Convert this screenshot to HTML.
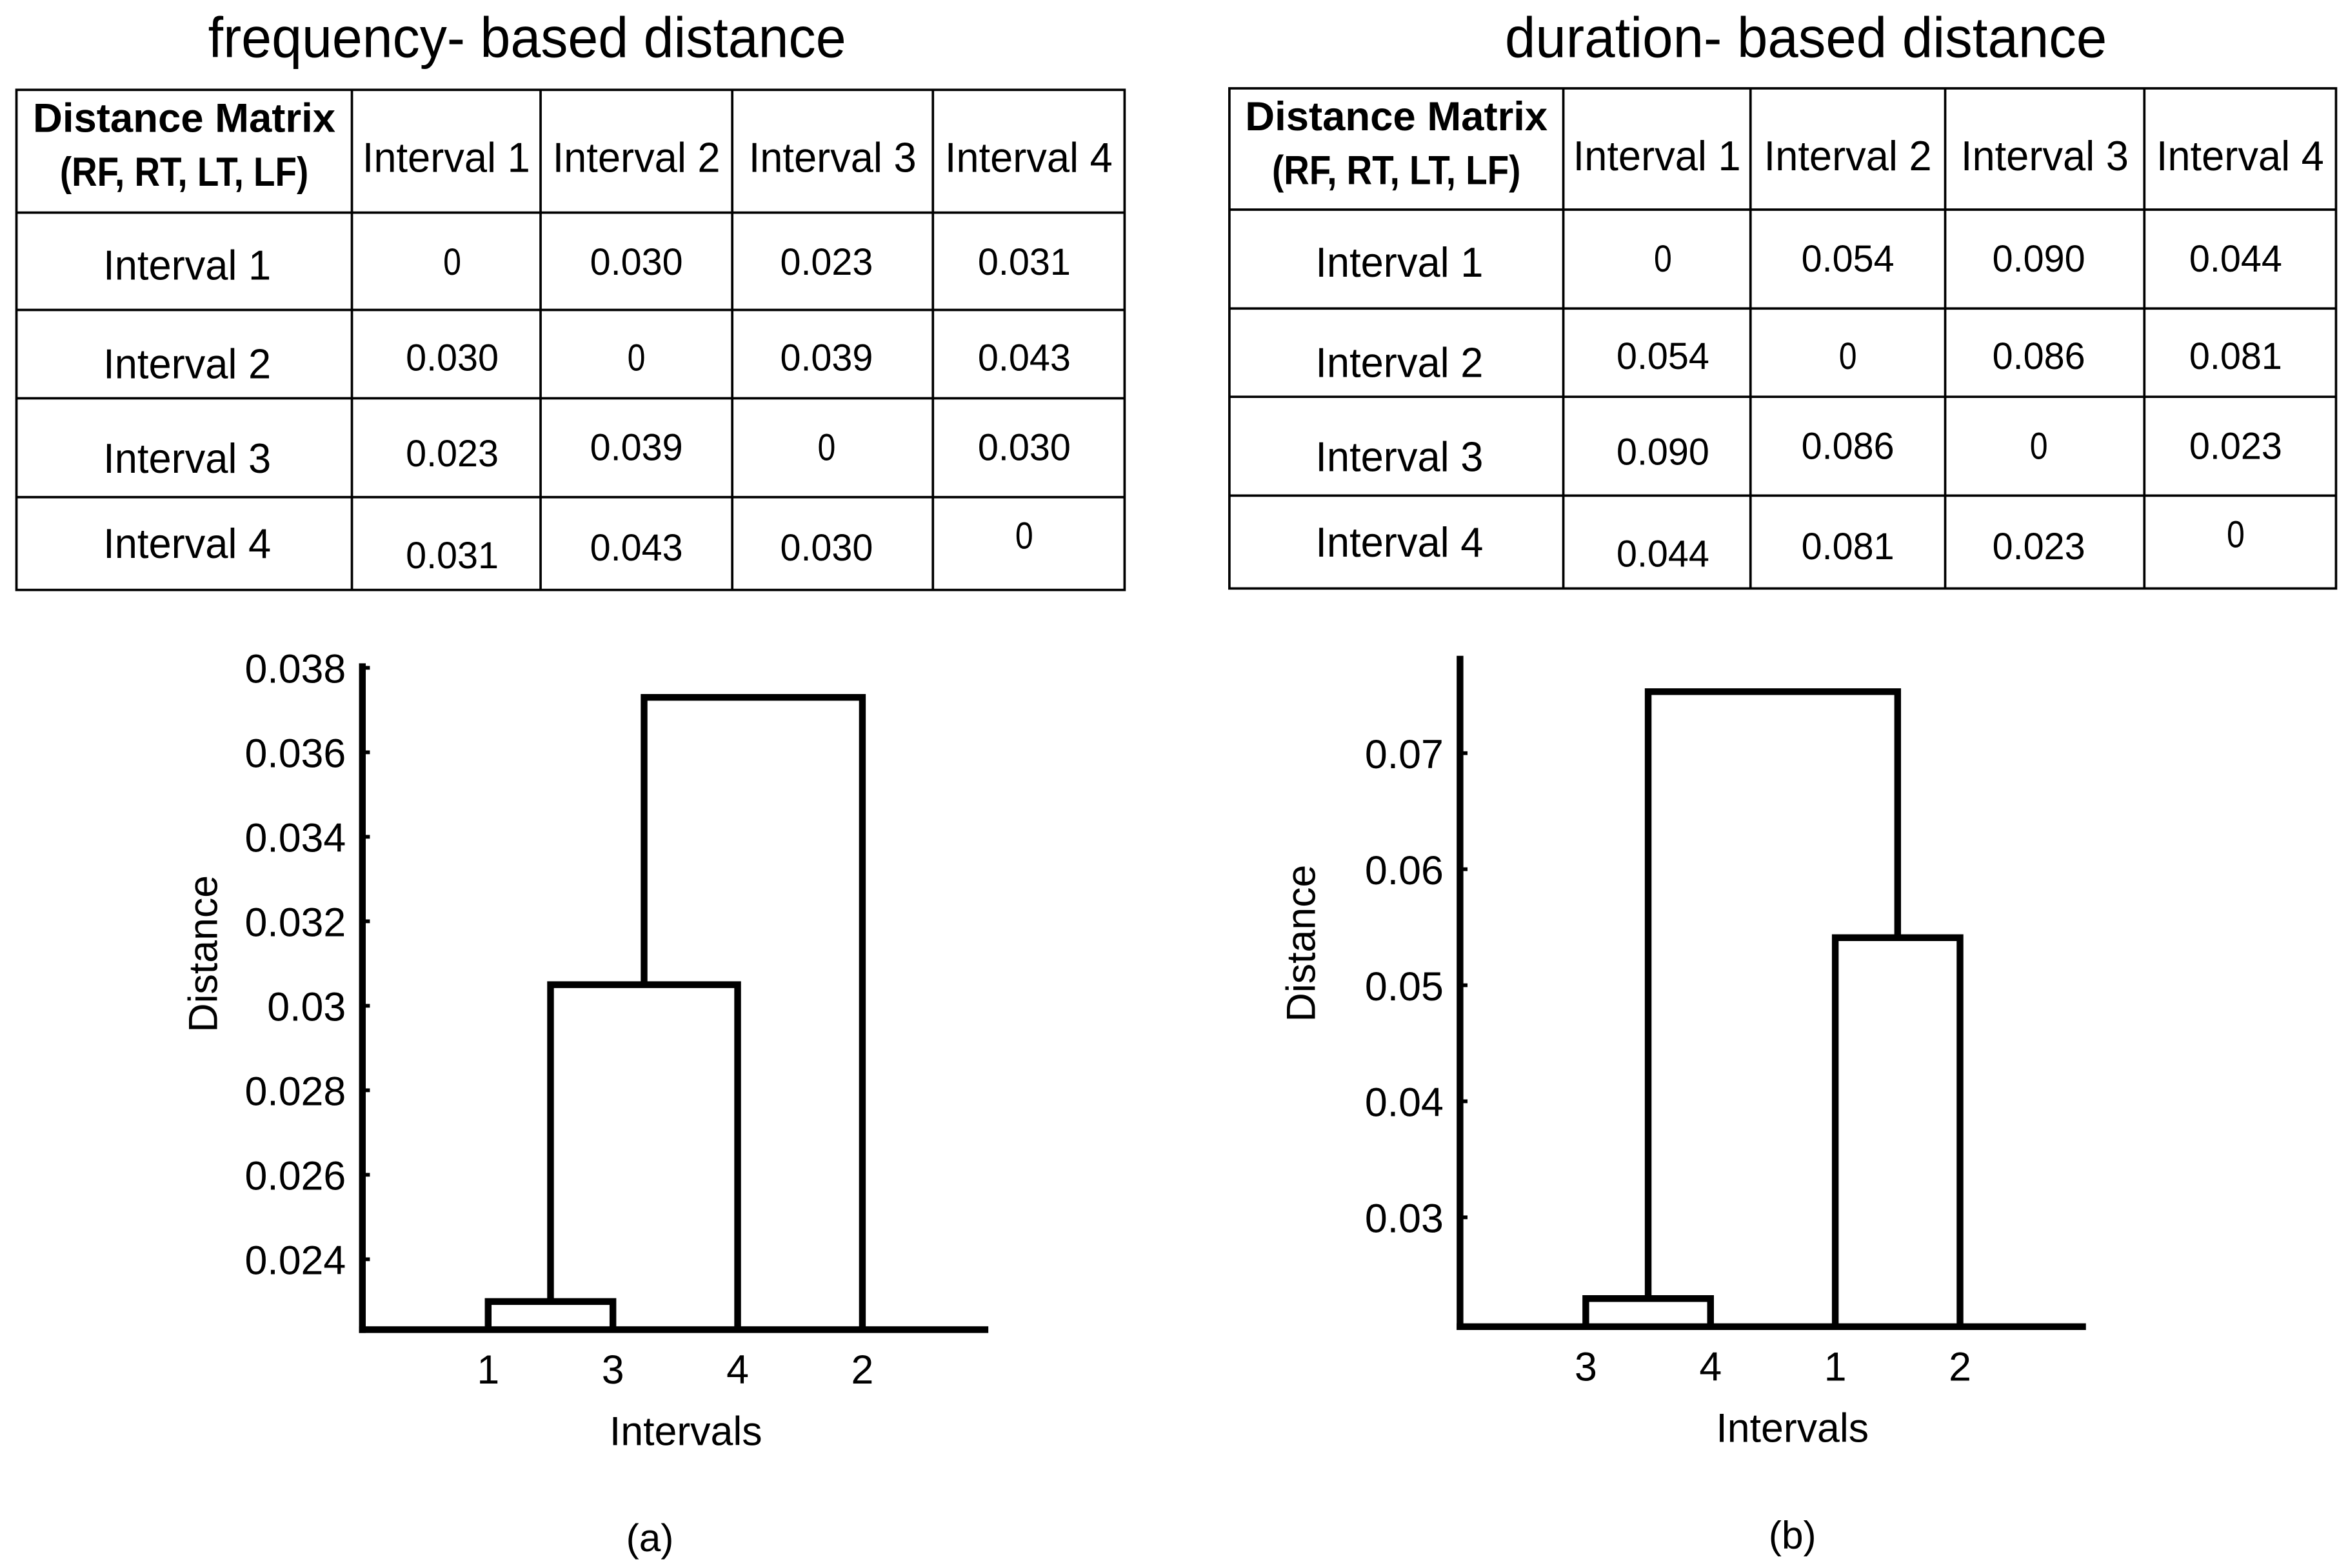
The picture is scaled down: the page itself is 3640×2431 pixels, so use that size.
<!DOCTYPE html>
<html><head><meta charset="utf-8"><style>
html,body{margin:0;padding:0;background:#fff}
svg{display:block}
text{font-family:"Liberation Sans",sans-serif;fill:#000}
.tb{font-family:"Liberation Sans Narrow","Liberation Sans",sans-serif}
</style></head><body>
<svg id="fig" width="3640" height="2431" viewBox="0 0 1568 1047.2" xmlns="http://www.w3.org/2000/svg"></svg>
<script>
// ---- data ----
const intervalLabels = ["Interval 1","Interval 2","Interval 3","Interval 4"];
const freqMatrix = [["0","0.030","0.023","0.031"],["0.030","0","0.039","0.043"],["0.023","0.039","0","0.030"],["0.031","0.043","0.030","0"]];
const durMatrix = [["0","0.054","0.090","0.044"],["0.054","0","0.086","0.081"],["0.090","0.086","0","0.023"],["0.044","0.081","0.023","0"]];
const freqLeafOrder = ["1","3","4","2"];
const freqTicks = [0.024,0.026,0.028,0.03,0.032,0.034,0.036,0.038];
const freqTickLabels = ["0.024","0.026","0.028","0.03","0.032","0.034","0.036","0.038"];
const freqMergeHeights = [0.0230, 0.0305, 0.0373];
const durLeafOrder = ["3","4","1","2"];
const durTicks = [0.03,0.04,0.05,0.06,0.07];
const durTickLabels = ["0.03","0.04","0.05","0.06","0.07"];
const durMergeHeights = [0.0230, 0.0541, 0.0753];

const NS="http://www.w3.org/2000/svg";
const svg=document.getElementById('fig');
function el(tag,attrs,parent){const e=document.createElementNS(NS,tag);for(const k in attrs)e.setAttribute(k,attrs[k]);(parent||svg).appendChild(e);return e;}
function txt(s,x,y,size,parent,extra){const t=el('text',Object.assign({x:x,y:y,'font-size':size,'text-anchor':'middle','dominant-baseline':'central'},extra||{}),parent);t.textContent=s;return t;}

function table(name,xs,ys,matrix,valY){
  const g=el('g',{});
  
  
  el('rect',{x:xs[0],y:ys[0],width:xs[5]-xs[0],height:ys[5]-ys[0],fill:'none',stroke:'#000','stroke-width':1.6},g);
  for(let i=1;i<5;i++){el('line',{x1:xs[i],y1:ys[0],x2:xs[i],y2:ys[5],stroke:'#000','stroke-width':1.6},g);
    el('line',{x1:xs[0],y1:ys[i],x2:xs[5],y2:ys[i],stroke:'#000','stroke-width':1.6},g);}
  const cx0=(xs[0]+xs[1])/2;
  let t=txt('Distance Matrix',cx0,ys[0]+19,27,g,{'font-weight':'bold',class:'tb',textLength:202,lengthAdjust:'spacingAndGlyphs'});
  
  t=txt('(RF, RT, LT, LF)',cx0,ys[0]+55,27,g,{'font-weight':'bold',class:'tb',textLength:166,lengthAdjust:'spacingAndGlyphs'});
  
  for(let j=0;j<4;j++){
    t=txt(intervalLabels[j],(xs[j+1]+xs[j+2])/2,ys[0]+45,28,g,{class:'tb',textLength:112,lengthAdjust:'spacingAndGlyphs'});
    
  }
  for(let i=0;i<4;i++){
    t=txt(intervalLabels[i],cx0+2,[35,36,40,31][i]+ys[i+1],28,g,{class:'tb',textLength:112,lengthAdjust:'spacingAndGlyphs'});
    
    for(let j=0;j<4;j++){
      t=txt(matrix[i][j],(xs[j+1]+xs[j+2])/2+[4,0,-4,-3][j],ys[i+1]+valY[i][j],25,g,{class:'tb',textLength:matrix[i][j].length>1?62:12,lengthAdjust:'spacingAndGlyphs'});
      
    }
  }
}
let t=txt('frequency- based distance',352,25,38,svg,{class:'tb',textLength:426,lengthAdjust:'spacingAndGlyphs'});

t=txt('duration- based distance',1206,25,38,svg,{class:'tb',textLength:402,lengthAdjust:'spacingAndGlyphs'});

const vY=[[33,33,33,33],[32,32,32,32],[37,33,33,33],[39,34,34,26]];
table('frequency-distance-table',[11,235,361,489,623,751],[60,142,207,266,332,394],freqMatrix,vY);
table('duration-distance-table',[821,1044,1169,1299,1432,1560],[59,140,206,265,331,393],durMatrix,vY);

function dendro(name,ax,axEnd,yAxisTop,yBase,vBase,vRef,yRef,pxPerUnit,ticks,tickLabels,leaves,leafX,merges,pattern,lab){
  const g=el('g',{});
  
  
  const Y=v=>yRef-(v-vRef)*pxPerUnit;
  const X=i=>leafX[0]+i*(leafX[1]-leafX[0]);
  const sw=4.5;
  let a=el('line',{x1:ax,y1:yAxisTop,x2:ax,y2:yBase+sw/2,stroke:'#000','stroke-width':sw},g);
  
  a=el('line',{x1:ax-sw/2,y1:yBase,x2:axEnd,y2:yBase,stroke:'#000','stroke-width':sw},g);
  
  ticks.forEach((v,i)=>{
    const tk=el('line',{x1:ax,y1:Y(v),x2:ax+5,y2:Y(v),stroke:'#000','stroke-width':2.5},g);
    
    const tl=txt(tickLabels[i],ax-11,Y(v)+1,27,g,{'text-anchor':'end'});
    
  });
  leaves.forEach((l,i)=>{const tl=txt(l,X(i),yBase+27,27,g);
    });
  const nodes={};
  pattern.forEach((p,k)=>{
    const get=n=>typeof n==='number'?{x:X(n),y:yBase}:nodes[n];
    const L=get(p[0]),R=get(p[1]),h=Y(merges[k]);
    const path=el('path',{d:`M${L.x},${L.y} V${h} H${R.x} V${R.y}`,fill:'none',stroke:'#000','stroke-width':sw,'stroke-linejoin':'miter'},g);
    
    nodes['m'+k]={x:(L.x+R.x)/2,y:h};
  });
  let tt=txt('Distance',0,0,27,g,{transform:`translate(${ax-106},${lab[1]}) rotate(-90)`,class:'tb'});
  
  tt=txt('Intervals',lab[0],yBase+68,27,g,{class:'tb'});
  
  tt=txt(lab[2],lab[0]-24+(lab[3]||0),yBase+139,26,g,{class:'tb'});
  
}
dendro('frequency-dendrogram',242,660,443,888,0.0223,0.038,446,28215,freqTicks,freqTickLabels,freqLeafOrder,[326,409.3],freqMergeHeights,[[0,1],['m0',2],['m1',3]],[458,637,'(a)']);
dendro('duration-dendrogram',975,1393,438,886,0.0206,0.07,503,7750,durTicks,durTickLabels,durLeafOrder,[1059,1142.3],durMergeHeights,[[0,1],[2,3],['m0','m1']],[1197,630,'(b)',24]);
</script>
</body></html>
